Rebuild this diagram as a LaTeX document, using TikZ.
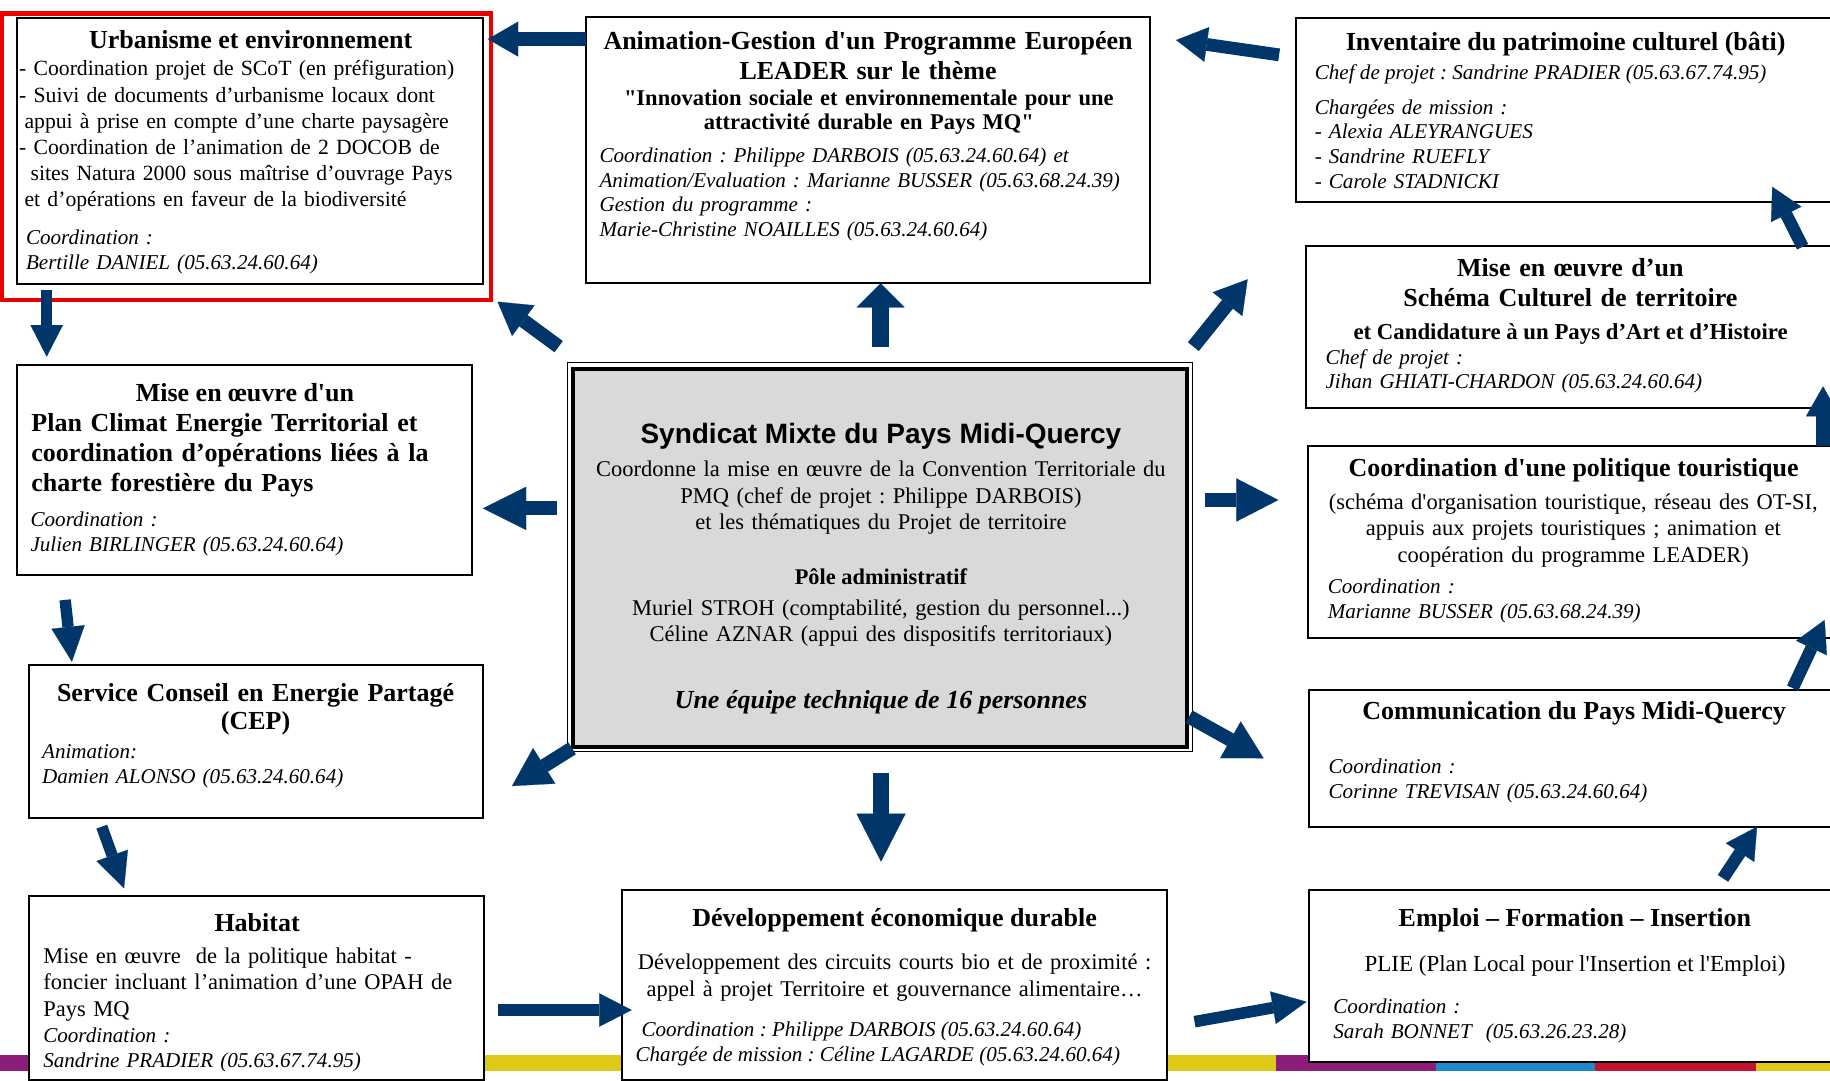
\documentclass[tikz,border=0pt]{standalone}
\usepackage{fontspec}
\setmainfont{Liberation Serif}
\newfontfamily\tnr{Liberation Serif}
\newfontfamily\arl{Liberation Sans}
\usetikzlibrary{arrows.meta,fit}
\frenchspacing
\definecolor{arrowblue}{RGB}{0,54,105}
\definecolor{stripPurple}{RGB}{140,30,122}
\definecolor{stripYellow}{RGB}{221,201,24}
\definecolor{stripBlue}{RGB}{30,138,199}
\definecolor{stripRed}{RGB}{196,18,47}
\definecolor{hlred}{RGB}{235,0,0}
\definecolor{centergray}{RGB}{217,217,217}
\tikzset{
  box/.style={draw=black, line width=1pt, fill=white, inner sep=0pt, outer sep=0pt},
  txt/.style={inner sep=0pt, outer sep=0pt},
  ttl/.style={txt, font=\tnr\fontsize{13}{15}\selectfont\bfseries, align=center},
  qt/.style={txt, font=\tnr\fontsize{11.4}{12}\selectfont\bfseries, align=center},
  bodyS/.style={txt, font=\tnr\fontsize{10.85}{13.1}\selectfont, align=left},
  bodyn/.style={txt, font=\tnr\fontsize{11.25}{13.2}\selectfont},
  itx/.style={txt, font=\tnr\fontsize{10.55}{12.4}\selectfont\itshape, align=left},
  arr/.style n args={3}{draw=arrowblue, line width=#1, -{Triangle[length=#2,width=#3,line width=0.1pt]}},
}
\begin{document}
\begin{tikzpicture}[x=0.58355pt, y=-0.58355pt]
\useasboundingbox (0,0) rectangle (1568,926);
\clip (0,0) rectangle (1568,926);
\fill[white] (0,0) rectangle (1568,926);
% bottom colour strip
\fill[stripPurple] (0,904) rectangle (300,917.4);
\fill[stripYellow] (300,904) rectangle (1093,917.4);
\fill[stripPurple] (1093,904) rectangle (1230,917.4);
\fill[stripBlue] (1230,904) rectangle (1367,917.4);
\fill[stripRed] (1367,904) rectangle (1505,917.4);
\fill[stripYellow] (1505,904) rectangle (1568,917.4);

% boxes
\node[box, fit={(14.7,15.7) (414,243)}] (urb) {};
\node[draw=hlred, line width=2.1pt, inner sep=0pt, fit={(2,11.5) (421,257)}] (urbsel) {};
\node[box, fit={(501.9,14.9) (985.7,242.8)}] (anim) {};
\node[box, fit={(1110.5,15.7) (1580,173.3)}] (inv) {};
\node[box, fit={(1119,210.8) (1580,349.9)}] (sch) {};
\node[box, fit={(1120.5,382.1) (1580,547)}] (tour) {};
\node[box, fit={(1121.6,591.2) (1580,708.3)}] (com) {};
\node[box, fit={(1121.9,762.6) (1580,909.7)}] (emp) {};
\node[box, fit={(532.7,762.6) (1000.3,925.5)}] (dev) {};
\node[box, fit={(24.9,767.4) (414.3,925.5)}] (hab) {};
\node[box, fit={(24.6,569.8) (413.8,701.2)}] (cep) {};
\node[box, fit={(14.7,312.7) (404.3,492.7)}] (pce) {};
\node[draw=black, line width=0.6pt, fill=white, inner sep=0pt, fit={(486.5,310.8) (1022,644)}] (smo) {};
\node[draw=black, line width=1.8pt, fill=centergray, inner sep=0pt, fit={(491,316) (1017,640)}] (sm) {};

% Urbanisme
\node[ttl, anchor=base] (urbT) at (214.8,41.4) {Urbanisme et environnement};
\node[bodyS, anchor=base west, text width=240pt] (urbB) at (16.4,65.1) {- Coordination projet de SCoT (en préfiguration)\\- Suivi de documents d’urbanisme locaux dont\\\hspace*{2.7pt}appui à prise en compte d’une charte paysagère\\- Coordination de l’animation de 2 DOCOB de\\\hspace*{5.8pt}sites Natura 2000 sous maîtrise d’ouvrage Pays\\\hspace*{2.7pt}et d’opérations en faveur de la biodiversité};
\node[itx, anchor=base west, text width=240pt] (urbI) at (22.3,209.9) {Coordination :\\Bertille DANIEL (05.63.24.60.64)};

% Animation LEADER
\node[ttl, anchor=base, text width=290pt] (animT) at (743.8,42.3) {Animation-Gestion d'un Programme Européen\\LEADER sur le thème};
\node[qt, font=\tnr\fontsize{11.25}{12}\selectfont\bfseries, anchor=base, text width=290pt] (animQ) at (744.4,90.8) {"Innovation sociale et environnementale pour une\\attractivité durable en Pays MQ"};
\node[itx, anchor=base west, text width=290pt] (animI) at (513.7,139.1) {Coordination : Philippe DARBOIS (05.63.24.60.64) et\\Animation/Evaluation : Marianne BUSSER (05.63.68.24.39)\\Gestion du programme :\\Marie-Christine NOAILLES (05.63.24.60.64)};

% Inventaire
\node[ttl, anchor=base] (invT) at (1341.5,43.4) {Inventaire du patrimoine culturel (bâti)};
\node[itx, anchor=base west] (invC) at (1126.6,68.5) {Chef de projet : Sandrine PRADIER (05.63.67.74.95)};
\node[itx, anchor=base west, text width=200pt] (invM) at (1126.6,97.7) {Chargées de mission :\\- Alexia ALEYRANGUES\\- Sandrine RUEFLY\\- Carole STADNICKI};

% Schema culturel
\node[ttl, anchor=base, text width=260pt] (schT) at (1345.5,237) {Mise en œuvre d’un\\Schéma Culturel de territoire};
\node[qt, anchor=base] (schC) at (1345.8,291.3) {et Candidature à un Pays d’Art et d’Histoire};
\node[itx, anchor=base west, text width=250pt] (schI) at (1135.8,311.9) {Chef de projet :\\Jihan GHIATI-CHARDON (05.63.24.60.64)};

% Tourisme
\node[ttl, anchor=base] (tourT) at (1348.3,408.4) {Coordination d'une politique touristique};
\node[bodyn, anchor=base, text width=262pt, align=center] (tourB) at (1348,436.4) {(schéma d'organisation touristique, réseau des OT-SI,\\appuis aux projets touristiques ; animation et\\coopération du programme LEADER)};
\node[itx, anchor=base west, text width=250pt] (tourI) at (1137.7,508.4) {Coordination :\\Marianne BUSSER (05.63.68.24.39)};

% Communication
\node[ttl, anchor=base] (comT) at (1348.7,616.9) {Communication du Pays Midi-Quercy};
\node[itx, anchor=base west, text width=250pt] (comI) at (1138.4,662.6) {Coordination :\\Corinne TREVISAN (05.63.24.60.64)};

% Emploi
\node[ttl, anchor=base] (empT) at (1349.4,794) {Emploi – Formation – Insertion};
\node[bodyn, font=\tnr\fontsize{11.5}{13.2}\selectfont, anchor=base] (empB) at (1349.5,832.5) {PLIE (Plan Local pour l'Insertion et l'Emploi)};
\node[itx, anchor=base west, text width=250pt] (empI) at (1142.5,868.8) {Coordination :\\Sarah BONNET~ (05.63.26.23.28)};

% Developpement
\node[ttl, anchor=base] (devT) at (766.5,794) {Développement économique durable};
\node[bodyn, anchor=base, text width=270pt, align=center] (devB) at (766.5,831.1) {Développement des circuits courts bio et de proximité :\\appel à projet Territoire et gouvernance alimentaire…};
\node[itx, anchor=base west] (devI1) at (549.7,887.7) {Coordination : Philippe DARBOIS (05.63.24.60.64)};
\node[itx, anchor=base west] (devI2) at (544.6,909.7) {Chargée de mission : Céline LAGARDE (05.63.24.60.64)};

% Habitat
\node[ttl, anchor=base] (habT) at (220.3,798.3) {Habitat};
\node[bodyn, anchor=base west, text width=230pt, align=left] (habB) at (37.1,825.4) {Mise en œuvre~ de la politique habitat -\\foncier incluant l’animation d’une OPAH de\\Pays MQ};
\node[itx, anchor=base west, text width=230pt] (habI) at (37.1,893.4) {Coordination :\\Sandrine PRADIER (05.63.67.74.95)};

% CEP
\node[ttl, anchor=base, text width=230pt] (cepT) at (219,601.2) {Service Conseil en Energie Partagé\\[-1.2pt](CEP)};
\node[itx, anchor=base west, text width=230pt] (cepI) at (36.1,649.8) {Animation:\\Damien ALONSO (05.63.24.60.64)};

% Plan climat
\node[ttl, anchor=base] (pceT1) at (209.9,344.2) {Mise en œuvre d'un};
\node[ttl, anchor=base west, text width=230pt, align=left] (pceT2) at (26.9,369.9) {Plan Climat Energie Territorial et\\coordination d’opérations liées à la\\charte forestière du Pays};
\node[itx, anchor=base west, text width=230pt] (pceI) at (26.2,451.3) {Coordination :\\Julien BIRLINGER (05.63.24.60.64)};

% Centre
\node[txt, font=\arl\fontsize{14}{16}\selectfont\bfseries, anchor=base] (smT) at (754.8,379.6) {Syndicat Mixte du Pays Midi-Quercy};
\node[bodyn, anchor=base, text width=300pt, align=center] (smB) at (754.8,408.4) {Coordonne la mise en œuvre de la Convention Territoriale du\\PMQ (chef de projet : Philippe DARBOIS)\\et les thématiques du Projet de territoire};
\node[txt, font=\tnr\fontsize{11.2}{13}\selectfont\bfseries, anchor=base] (smP) at (754.8,501) {Pôle administratif};
\node[bodyn, anchor=base, text width=300pt, align=center] (smA) at (754.8,527) {Muriel STROH (comptabilité, gestion du personnel...)\\Céline AZNAR (appui des dispositifs territoriaux)};
\node[txt, font=\tnr\fontsize{13}{15}\selectfont\bfseries\itshape, anchor=base] (smE) at (754.8,606.8) {Une équipe technique de 16 personnes};

% arrow end points
\coordinate (a1) at (501.7,33.5);   \coordinate (a2) at (418,33.5);
\coordinate (b1) at (1096,47);      \coordinate (b2) at (1007.7,34.3);
\coordinate (c1) at (478.7,297);    \coordinate (c2) at (426.3,258.5);
\coordinate (d1) at (754.6,297);    \coordinate (d2) at (754.6,242.8);
\coordinate (e1) at (1022.5,297);   \coordinate (e2) at (1069,239.3);
\coordinate (f1) at (1544.5,211.4); \coordinate (f2) at (1518.5,160);
\coordinate (g1) at (1562,382);     \coordinate (g2) at (1562,331);
\coordinate (h1) at (1536,589.6);   \coordinate (h2) at (1563.4,531.2);
\coordinate (i1) at (1476.3,752.6); \coordinate (i2) at (1505.5,708.3);
\coordinate (j1) at (1032.3,428.4); \coordinate (j2) at (1095.3,428.4);
\coordinate (k1) at (1018.8,614);   \coordinate (k2) at (1082.7,649.7);
\coordinate (l1) at (754.9,662.6);  \coordinate (l2) at (754.9,738.3);
\coordinate (m1) at (477,435.6);    \coordinate (m2) at (413.8,435.6);
\coordinate (n1) at (490.2,641.2);  \coordinate (n2) at (438.7,673.5);
\coordinate (o1) at (40,248.5);     \coordinate (o2) at (40,305.6);
\coordinate (p1) at (55.8,514);     \coordinate (p2) at (61.6,567);
\coordinate (q1) at (87.2,708.3);   \coordinate (q2) at (106.3,761.1);
\coordinate (r1) at (426.5,865.4);  \coordinate (r2) at (541.3,865.4);
\coordinate (s1) at (1023.5,875.4); \coordinate (s2) at (1119.4,858.3);

\draw[arr={6.8pt}{15.2pt}{17.5pt}] (a1) -- (a2);
\draw[arr={6.4pt}{15.5pt}{17.5pt}] (b1) -- (b2);
\draw[arr={7pt}{16pt}{19pt}] (c1) -- (c2);
\draw[arr={8.3pt}{12pt}{24pt}] (d1) -- (d2);
\draw[arr={7pt}{16pt}{19pt}] (e1) -- (e2);
\draw[arr={6.2pt}{15.5pt}{17pt}] (f1) -- (f2);
\draw[arr={6.8pt}{15pt}{17pt}] (g1) -- (g2);
\draw[arr={6.2pt}{15.5pt}{17pt}] (h1) -- (h2);
\draw[arr={6.2pt}{15.5pt}{17pt}] (i1) -- (i2);
\draw[arr={7.4pt}{21pt}{21.6pt}] (j1) -- (j2);
\draw[arr={7pt}{19pt}{21pt}] (k1) -- (k2);
\draw[arr={8.3pt}{24pt}{24.5pt}] (l1) -- (l2);
\draw[arr={7pt}{21.6pt}{21.6pt}] (m1) -- (m2);
\draw[arr={7pt}{19pt}{21pt}] (n1) -- (n2);
\draw[arr={5.7pt}{15.8pt}{16.2pt}] (o1) -- (o2);
\draw[arr={5.7pt}{17.5pt}{16.7pt}] (p1) -- (p2);
\draw[arr={5.7pt}{17.5pt}{16.7pt}] (q1) -- (q2);
\draw[arr={5.8pt}{16.3pt}{16.7pt}] (r1) -- (r2);
\draw[arr={5.8pt}{17pt}{16.5pt}] (s1) -- (s2);
\end{tikzpicture}
\end{document}
